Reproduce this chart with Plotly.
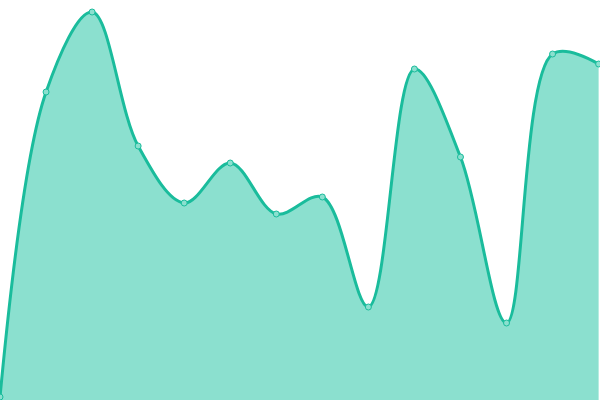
import plotly.graph_objects as go

indices = list(range(14))
values = [3, 308, 388, 254, 197, 237, 186, 203, 93, 331, 243, 77, 346, 336]

line_color = '#1abc9c'
fill_color = '#8be0cf'

fig = go.Figure()
fig.add_trace(go.Scatter(
    x=indices,
    y=values,
    mode='lines+markers',
    line=dict(color=line_color, width=3, shape='spline', smoothing=1),
    fill='tozeroy',
    fillcolor=fill_color,
    marker=dict(size=6, color=fill_color, line=dict(color=line_color, width=1)),
    hoverinfo='skip',
))

fig.update_layout(
    width=600, height=400,
    margin=dict(l=0, r=0, t=0, b=0),
    paper_bgcolor='white',
    plot_bgcolor='white',
    showlegend=False,
    xaxis=dict(range=[0, 13.03], visible=False, fixedrange=True),
    yaxis=dict(range=[0, 400], visible=False, fixedrange=True),
)

# page body has a default 8px margin, drop it so the chart sits at the window corner
fig.write_html("out.html", config=dict(displayModeBar=False),
               post_script="document.body.style.margin='0px';document.body.style.overflow='hidden';")
